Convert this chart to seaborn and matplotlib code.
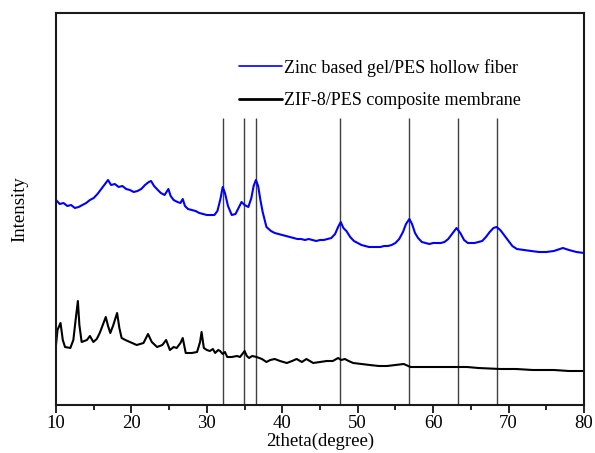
import pandas as pd
import seaborn as sns
import matplotlib.pyplot as plt
from matplotlib.ticker import MultipleLocator

# values (intensity in arbitrary units)
gel_x = [10.0, 10.5, 11.0, 11.5, 12.0, 12.5, 13.0, 13.5, 14.0, 14.5, 15.0, 15.5, 16.0, 16.5,
         16.9, 17.3, 17.8, 18.3, 18.8, 19.3, 19.8, 20.3, 20.8, 21.3, 21.8, 22.3, 22.6, 23.0,
         23.5, 23.9, 24.4, 24.9, 25.2, 25.6, 26.1, 26.5, 26.8, 27.1, 27.5, 28.0, 28.5, 29.0,
         29.5, 30.0, 30.5, 31.0, 31.4, 31.8, 32.1, 32.4, 32.8, 33.3, 33.8, 34.2, 34.6, 35.0,
         35.5, 35.9, 36.2, 36.5, 36.8, 37.1, 37.4, 37.9, 38.5, 39.0, 39.5, 40.0, 40.5, 41.0,
         41.5, 42.0, 42.5, 43.0, 43.5, 44.0, 44.5, 45.0, 45.5, 46.0, 46.5, 47.0, 47.4, 47.75,
         48.1, 48.5, 49.0, 49.5, 50.0, 50.5, 51.0, 51.5, 52.0, 52.5, 53.0, 53.5, 54.0, 54.5,
         55.0, 55.5, 56.0, 56.4, 56.85, 57.2, 57.6, 58.0, 58.5, 59.0, 59.5, 60.0, 60.5, 61.0,
         61.5, 62.0, 62.5, 63.1, 63.6, 64.1, 64.6, 65.0, 65.5, 66.0, 66.5, 67.0, 67.5, 68.0,
         68.4, 68.9, 69.4, 69.9, 70.5, 71.1, 72.0, 73.0, 74.0, 75.0, 76.0, 77.2, 78.0, 79.0, 80.0]
gel_px = [200, 204, 203, 206, 205, 208, 207, 205, 203, 200, 198, 194, 189, 184,
          180, 185, 184, 187, 186, 189, 190, 192, 191, 189, 185, 182, 181, 186,
          190, 193, 195, 189, 196, 200, 202, 203, 199, 206, 209, 210, 211, 213,
          214, 215, 215, 215, 211, 199, 187, 193, 206, 215, 214, 208, 202, 205,
          207, 198, 186, 180, 186, 200, 212, 227, 231, 233, 234, 235, 236, 237,
          238, 239, 239, 240, 239, 240, 241, 240, 240, 239, 238, 234, 227, 222,
          228, 231, 237, 241, 243, 245, 246, 247, 247, 247, 247, 246, 246, 245,
          243, 239, 232, 224, 219, 224, 233, 238, 242, 243, 244, 243, 243, 243,
          242, 239, 234, 228, 233, 240, 243, 243, 243, 242, 241, 237, 232, 228,
          227, 230, 235, 240, 246, 249, 250, 251, 252, 252, 251, 248, 250, 252, 253]

zif_x = [10.0, 10.2, 10.6, 10.9, 11.2, 11.9, 12.3, 12.6, 12.9, 13.1, 13.4, 14.1, 14.5, 14.95,
         15.4, 15.8, 16.2, 16.6, 16.9, 17.2, 17.6, 18.1, 18.4, 18.7, 19.2, 19.8, 20.7, 21.6,
         22.2, 22.7, 23.4, 24.1, 24.6, 25.1, 25.6, 26.0, 26.5, 26.8, 27.2, 28.0, 28.7, 29.1,
         29.3, 29.6, 30.0, 30.4, 30.8, 31.1, 31.5, 31.75, 32.1, 32.4, 32.7, 33.3, 34.0, 34.4,
         34.8, 35.0, 35.3, 35.6, 36.0, 36.6, 37.3, 37.9, 38.4, 39.0, 39.7, 40.6, 41.3, 41.9,
         42.6, 43.2, 44.1, 45.0, 45.9, 46.7, 47.4, 47.8, 48.3, 48.8, 49.4, 50.5, 51.6, 52.8,
         53.9, 55.0, 56.1, 57.0, 58.3, 60.0, 62.0, 63.4, 64.5, 66.0, 68.9, 71.0, 73.2, 76.0,
         78.0, 80.0]
zif_px = [345, 330, 323, 340, 347, 348, 340, 320, 301, 325, 342, 340, 336, 342,
          339, 333, 325, 317, 326, 333, 325, 313, 328, 338, 340, 342, 345, 343,
          334, 342, 347, 345, 340, 350, 347, 348, 343, 338, 353, 353, 352, 342,
          332, 348, 350, 351, 349, 353, 350, 351, 354, 352, 357, 357, 356, 357,
          353, 351, 356, 358, 356, 357, 359, 362, 360, 359, 361, 363, 361, 359,
          362, 359, 363, 362, 361, 361, 358, 360, 359, 361, 363, 364, 365, 366,
          366, 365, 364, 367, 367, 367, 367, 367, 367, 368, 369, 369, 370, 370,
          371, 371]

peaks = [32.2, 34.9, 36.5, 47.7, 56.8, 63.3, 68.5]
labels = ["Zinc based gel/PES hollow fiber", "ZIF-8/PES composite membrane"]

base = 405
df = pd.concat([
    pd.DataFrame({"x": gel_x, "y": [base - v for v in gel_px], "sample": labels[0]}),
    pd.DataFrame({"x": zif_x, "y": [base - v for v in zif_px], "sample": labels[1]}),
])

sns.set_style("ticks")
plt.rcParams["font.family"] = ["Liberation Serif", "DejaVu Serif"]
plt.rcParams["font.size"] = 13
plt.rcParams["text.color"] = "black"
plt.rcParams["axes.labelcolor"] = "black"
plt.rcParams["xtick.color"] = "black"

fig = plt.figure(figsize=(5.95, 4.53), dpi=100)
ax = fig.add_axes([56 / 595, 48 / 453, 528 / 595, 392 / 453])

ax.vlines(peaks, 0, 287, color="0.25", lw=1.0, zorder=1)
sns.lineplot(data=df, x="x", y="y", hue="sample", palette=["#0000ff", "black"],
             estimator=None, sort=False, ax=ax, zorder=2)
ax.lines[-2].set_linewidth(3.0)
ax.lines[-1].set_linewidth(2.2)

ax.set_xlim(10, 80)
ax.set_ylim(0, 392)
ax.xaxis.set_major_locator(MultipleLocator(10))
ax.xaxis.set_minor_locator(MultipleLocator(5))
ax.tick_params(axis="x", which="major", length=6, width=1.2, pad=1.5, labelsize=13.5)
ax.tick_params(axis="x", which="minor", length=3.5, width=1.2)
ax.set_yticks([])
for s in ax.spines.values():
    s.set_linewidth(1.5)
    s.set_color("0.1")

ax.set_xlabel("2theta(degree)", fontsize=13.5, labelpad=0)
ax.set_ylabel("Intensity", fontsize=13.5, labelpad=20)

leg = ax.legend(loc="upper left", bbox_to_anchor=(0.315, 0.925), frameon=False,
                handlelength=2.4, handletextpad=0.1, labelspacing=0.85, fontsize=13)
for line, w in zip(leg.get_lines(), [1.2, 2.0]):
    line.set_linewidth(w)

fig.savefig("out.png", dpi=100)
